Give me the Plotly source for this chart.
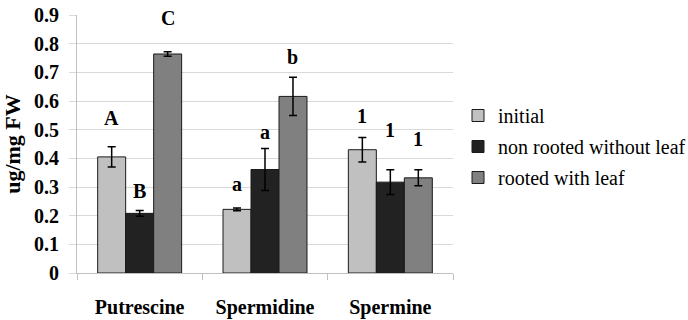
import plotly.graph_objects as go

categories = ["Putrescine", "Spermidine", "Spermine"]
series_names = ["initial", "non rooted without leaf", "rooted with leaf"]
initial = [0.405, 0.222, 0.430]
non_rooted = [0.208, 0.361, 0.317]
rooted = [0.764, 0.616, 0.332]
initial_err = [0.035, 0.005, 0.043]
non_rooted_err = [0.010, 0.073, 0.043]
rooted_err = [0.008, 0.067, 0.028]
initial_letters = ["A", "a", "1"]
non_rooted_letters = ["B", "a", "1"]
rooted_letters = ["C", "b", "1"]
initial_letter_y = [0.540, 0.310, 0.547]
non_rooted_letter_y = [0.285, 0.492, 0.498]
rooted_letter_y = [0.889, 0.752, 0.466]
y_ticks = [0, 0.1, 0.2, 0.3, 0.4, 0.5, 0.6, 0.7, 0.8, 0.9]
y_tick_labels = ["0", "0.1", "0.2", "0.3", "0.4", "0.5", "0.6", "0.7", "0.8", "0.9"]

values = [initial, non_rooted, rooted]
errors = [initial_err, non_rooted_err, rooted_err]
letters = [initial_letters, non_rooted_letters, rooted_letters]
letter_ys = [initial_letter_y, non_rooted_letter_y, rooted_letter_y]
colors = ["#c0c0c0", "#222222", "#808080"]

W, H = 688, 320
ML, MR, MT, MB = 77, 235, 15, 47
BARGAP = 0.33
SERIF = "Times New Roman"

fig = go.Figure()
for i, name in enumerate(series_names):
    fig.add_trace(go.Bar(
        x=categories, y=values[i], name=name,
        marker=dict(color=colors[i], line=dict(color="#1a1a1a", width=1)),
        error_y=dict(type="data", array=errors[i], visible=True,
                     color="#000000", thickness=1.5, width=4),
        legendgroup=name,
    ))

plot_w = W - ML - MR
bar_px = plot_w / len(categories) * (1 - BARGAP) / len(series_names)
for i in range(len(series_names)):
    shift = (i - (len(series_names) - 1) / 2) * bar_px
    for j, cat in enumerate(categories):
        fig.add_annotation(
            x=cat, y=letter_ys[i][j], text="<b>%s</b>" % letters[i][j],
            showarrow=False, xshift=shift, yanchor="middle",
            font=dict(family=SERIF, size=20, color="#000000"),
        )

fig.update_layout(
    width=W, height=H,
    margin=dict(l=ML, r=MR, t=MT, b=MB, autoexpand=False),
    paper_bgcolor="white", plot_bgcolor="white",
    barmode="group", bargap=BARGAP, bargroupgap=0,
    showlegend=True,
    legend=dict(
        xref="container", yref="container", x=458 / W, y=1 - 96 / H,
        xanchor="left", yanchor="top",
        font=dict(family=SERIF, size=20, color="#000000"),
        tracegroupgap=2, bgcolor="rgba(0,0,0,0)",
    ),
    font=dict(family=SERIF, color="#000000"),
)
fig.update_xaxes(
    type="category", showgrid=False, showline=True, linecolor="#c0c0c0", linewidth=1,
    ticks="outside", tickson="boundaries", ticklen=6, tickcolor="#c0c0c0",
    tickfont=dict(family=SERIF, size=20, color="#000000"),
    ticklabelstandoff=16, automargin=False,
    tickvals=categories, ticktext=["<b>%s</b>" % c for c in categories],
)
fig.update_yaxes(
    range=[0, 0.9], tickvals=y_ticks, ticktext=["<b>%s</b>" % t for t in y_tick_labels],
    showgrid=True, gridcolor="#d9d9d9", gridwidth=1,
    showline=True, linecolor="#c0c0c0", linewidth=1,
    ticks="outside", ticklen=7, tickcolor="#d9d9d9",
    tickfont=dict(family=SERIF, size=20, color="#000000"),
    ticklabelstandoff=6, zeroline=False, automargin=False,
    title=dict(text="<b>ug/mg FW</b>", font=dict(family=SERIF, size=22, color="#000000"), standoff=8),
)

fig.write_html("out.html", config={"displayModeBar": False},
               post_script="document.body.style.margin='0';")
